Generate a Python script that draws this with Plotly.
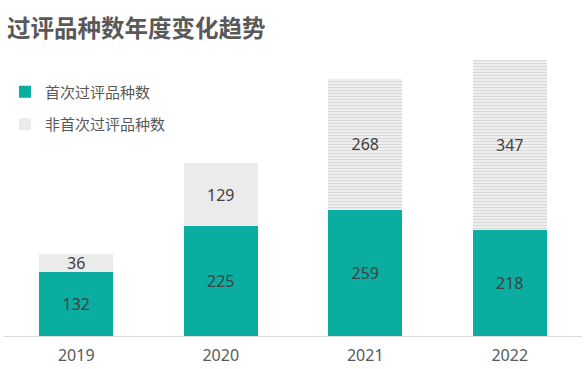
import plotly.graph_objects as go

years = ["2019", "2020", "2021", "2022"]
first_eval = [132, 225, 259, 218]
non_first_eval = [36, 129, 268, 347]
series_names = ["首次过评品种数", "非首次过评品种数"]
title_text = "过评品种数年度变化趋势"

teal = "#0aad9f"
gray = "#ebebeb"
W, H = 584, 369

fig = go.Figure()
fig.add_trace(go.Bar(
    x=years, y=first_eval, name=series_names[0],
    marker=dict(color=teal, line=dict(width=0)),
    text=first_eval, textposition="inside", insidetextanchor="middle", textangle=0,
    constraintext="none",
    textfont=dict(family="Noto Sans, sans-serif", size=16, color="#404040"),
    legendgroup="a",
))
fig.add_trace(go.Bar(
    x=years, y=non_first_eval, name=series_names[1],
    marker=dict(
        color=gray, line=dict(width=0),
        pattern=dict(shape=["", "", "-", "-"], fgcolor="#d9d9d9", bgcolor="#f6f6f6",
                     size=3, solidity=0.5, fillmode="replace"),
    ),
    text=non_first_eval, textposition="inside", insidetextanchor="middle", textangle=0,
    constraintext="none",
    textfont=dict(family="Noto Sans, sans-serif", size=16, color="#404040"),
    legendgroup="b",
))

fig.update_layout(
    barmode="stack",
    bargap=0.49,
    width=W, height=H,
    margin=dict(l=4, r=2, t=50, b=33, autoexpand=False),
    paper_bgcolor="white", plot_bgcolor="white",
    title=dict(text="<b>" + title_text + "</b>", x=7 / W, xanchor="left", y=1 - 21 / H, yanchor="top",
               xref="container", yref="container",
               font=dict(family="Noto Sans CJK SC", size=23.5, color="#595959")),
    legend=dict(x=5 / W, y=1 - 108 / H, xref="container", yref="container",
                xanchor="left", yanchor="middle",
                traceorder="grouped", tracegroupgap=10,
                font=dict(family="Noto Sans CJK SC", size=15, color="#595959"),
                bgcolor="rgba(0,0,0,0)"),
    xaxis=dict(showline=True, linecolor="#d9d9d9", linewidth=1, ticks="",
               tickfont=dict(family="Noto Sans, sans-serif", size=16, color="#595959"),
               ticklabelstandoff=5,
               showgrid=False, automargin=False),
    yaxis=dict(range=[0, 586], visible=False, showgrid=False, zeroline=False, automargin=False),
    hovermode=False,
)

fig.write_html("out.html", config={"displayModeBar": False},
               post_script="document.body.style.margin='0';")
